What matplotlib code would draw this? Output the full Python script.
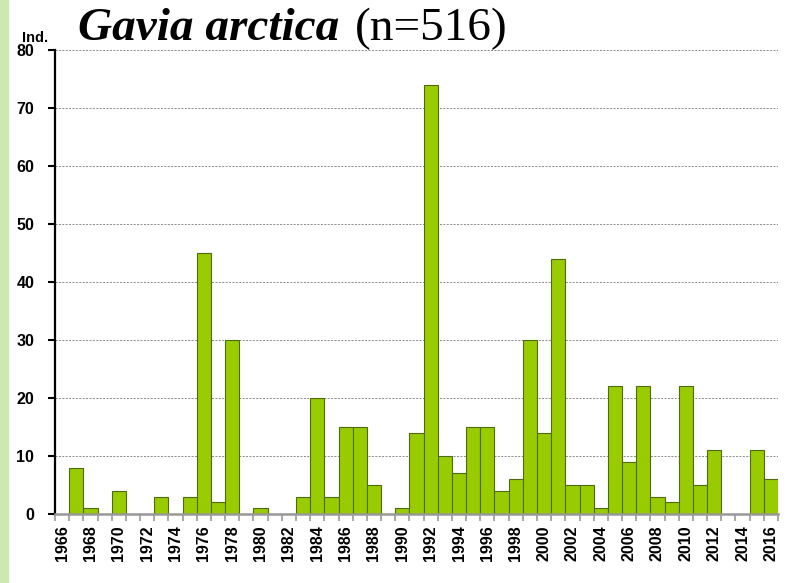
import numpy as np
import matplotlib.pyplot as plt

years = list(range(1966, 2017))
counts = [0, 8, 1, 0, 4, 0, 0, 3, 0, 3,
          45, 2, 30, 0, 1, 0, 0, 3, 20, 3,
          15, 15, 5, 0, 1, 14, 74, 10, 7, 15,
          15, 4, 6, 30, 14, 44, 5, 5, 1, 22,
          9, 22, 3, 2, 22, 5, 11, 0, 0, 11,
          6]
yticks = [0, 10, 20, 30, 40, 50, 60, 70, 80]


def plot():
    fig = plt.figure(figsize=(7.92, 5.83), dpi=100)
    # light green strip down the left edge
    fig.patches.append(plt.Rectangle((0, 0), 8 / 792, 1, transform=fig.transFigure,
                                     color='#cde8b0', zorder=0))
    ax = fig.add_axes([55 / 792, 1 - 514 / 583, (778 - 55) / 792, (514 - 50) / 583])

    x = np.arange(len(years))
    ax.bar(x, counts, width=1.0, color='#99cc00', edgecolor='#4f6a10',
           linewidth=0.8, zorder=3)

    ax.set_xlim(-0.5, len(years) - 0.5)
    ax.set_ylim(0, 80)
    ax.set_yticks(yticks)
    ax.set_yticklabels([str(v) for v in yticks], fontsize=11.5,
                       fontweight='bold', family='Liberation Sans')
    ax.yaxis.grid(True, linestyle=(0, (2, 1.5)), color='#888888', linewidth=0.7, zorder=0)

    ax.set_xticks(x[::2])
    ax.set_xticklabels([str(y) for y in years[::2]], rotation=90, fontsize=11.5,
                       fontweight='bold', family='Liberation Sans')
    ax.set_xticks(np.arange(-0.5, len(years)), minor=True)
    ax.tick_params(axis='x', which='major', length=0, pad=8)
    ax.tick_params(axis='x', which='minor', length=5, color='#999999', width=1.2)
    ax.tick_params(axis='y', length=5, width=1.5, color='black', pad=10)

    for s in ['top', 'right']:
        ax.spines[s].set_visible(False)
    ax.spines['left'].set_linewidth(1.6)
    ax.spines['bottom'].set_color('#999999')
    ax.spines['bottom'].set_linewidth(1.8)
    ax.spines['bottom'].set_zorder(4)

    fig.text(78 / 792, 1 - 40 / 583, 'Gavia arctica', family='Liberation Serif',
             style='italic', fontweight='bold', fontsize=34, va='baseline')
    fig.text(355 / 792, 1 - 40 / 583, '(n=516)', family='Liberation Serif',
             fontsize=34, va='baseline')
    fig.text(22 / 792, 1 - 42 / 583, 'Ind.', family='Liberation Sans',
             fontweight='bold', fontsize=10.5, va='baseline')

    fig.savefig('out.png', dpi=100)


if __name__ == "__main__":
    plot()
